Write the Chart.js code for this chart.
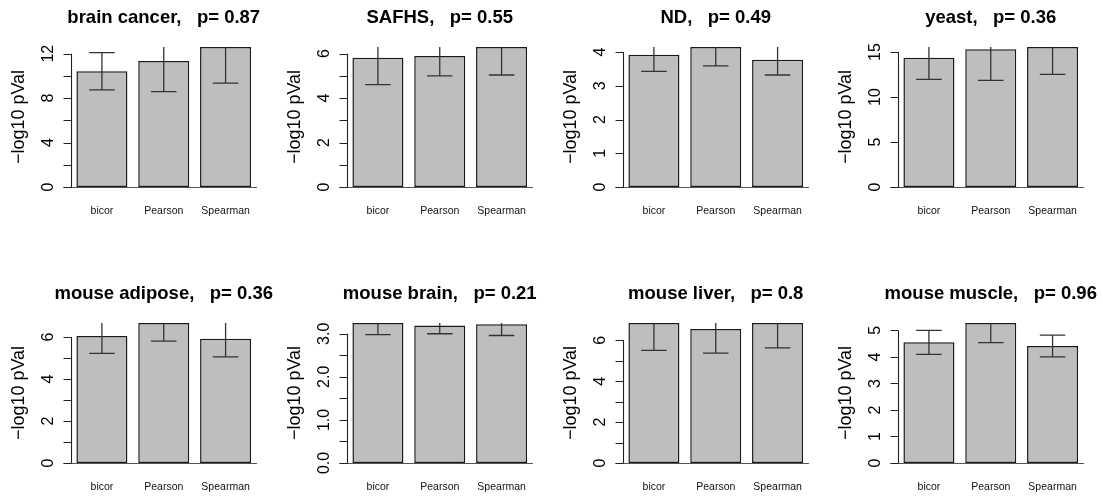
<!DOCTYPE html>
<html>
<head>
<meta charset="utf-8">
<script src="https://cdn.jsdelivr.net/npm/chart.js@4.4.0/dist/chart.umd.min.js"></script>
<style>
  html, body { margin: 0; padding: 0; background: #fff; overflow: hidden; }
  #wrap { position: relative; width: 1103px; height: 499px; }
  #wrap canvas { position: absolute; }
</style>
</head>
<body>
<div id="wrap"></div>
<script>
// Data (8 panels, 3 methods each)
const methods = ['bicor', 'Pearson', 'Spearman'];
const titles = ['brain cancer', 'SAFHS', 'ND', 'yeast',
                'mouse adipose', 'mouse brain', 'mouse liver', 'mouse muscle'];
const pValues = ['0.87', '0.55', '0.49', '0.36', '0.36', '0.21', '0.8', '0.96'];

// -log10 pVal bar heights
const barValues = [
  [10.42, 11.35, 12.6],
  [5.82, 5.90, 6.30],
  [3.92, 4.15, 3.77],
  [14.37, 15.30, 15.56],
  [6.05, 6.67, 5.92],
  [3.25, 3.19, 3.22],
  [6.85, 6.56, 6.85],
  [4.55, 5.28, 4.41]
];

// error bar half-widths
const errValues = [
  [1.67, 2.76, 3.26],
  [1.21, 0.90, 1.26],
  [0.49, 0.56, 0.45],
  [2.41, 3.45, 3.04],
  [0.83, 0.86, 0.86],
  [0.27, 0.19, 0.26],
  [1.34, 1.18, 1.22],
  [0.45, 0.74, 0.41]
];

// y axis tick positions and their labels ('' = unlabelled tick)
const yTicks = [
  [0, 2, 4, 6, 8, 10, 12],
  [0, 1, 2, 3, 4, 5, 6],
  [0, 1, 2, 3, 4],
  [0, 5, 10, 15],
  [0, 1, 2, 3, 4, 5, 6],
  [0, 0.5, 1, 1.5, 2, 2.5, 3],
  [0, 1, 2, 3, 4, 5, 6],
  [0, 1, 2, 3, 4, 5]
];
const yTickLabels = [
  ['0', '', '4', '', '8', '', '12'],
  ['0', '', '2', '', '4', '', '6'],
  ['0', '1', '2', '3', '4'],
  ['0', '5', '10', '15'],
  ['0', '', '2', '', '4', '', '6'],
  ['0.0', '', '1.0', '', '2.0', '', '3.0'],
  ['0', '', '2', '', '4', '', '6'],
  ['0', '1', '2', '3', '4', '5']
];

const FONT = '"Liberation Sans", Arial, Helvetica, sans-serif';

// R-like decorations: clipped error bars, baseline, left axis, titles
const rStyle = {
  id: 'rStyle',
  afterDatasetsDraw(chart, args, opts) {
    const { ctx, chartArea: a } = chart;
    const y = chart.scales.y;
    const meta = chart.getDatasetMeta(0);

    ctx.save();
    ctx.beginPath();
    ctx.rect(a.left, a.top, a.right - a.left, a.bottom - a.top);
    ctx.clip();
    ctx.strokeStyle = '#333';
    ctx.lineWidth = 1.3;
    meta.data.forEach((bar, i) => {
      const v = opts.values[i];
      const e = opts.errors[i];
      const hi = y.getPixelForValue(v + e);
      const lo = y.getPixelForValue(v - e);
      const cap = bar.width * 0.25;
      ctx.beginPath();
      ctx.moveTo(bar.x, hi); ctx.lineTo(bar.x, lo);
      ctx.moveTo(bar.x - cap, hi); ctx.lineTo(bar.x + cap, hi);
      ctx.moveTo(bar.x - cap, lo); ctx.lineTo(bar.x + cap, lo);
      ctx.stroke();
    });
    ctx.restore();
  },
  afterDraw(chart, args, opts) {
    const { ctx, chartArea: a } = chart;
    const y = chart.scales.y;
    const ax = Math.round(a.left) + 0.5;

    ctx.save();
    // baseline at 0
    const y0 = Math.round(y.getPixelForValue(0)) + 0.5;
    ctx.strokeStyle = '#555';
    ctx.lineWidth = 1.2;
    ctx.beginPath();
    ctx.moveTo(a.left - 7.5, y0);
    ctx.lineTo(a.right + 0.5, y0);
    ctx.stroke();

    // left axis line spans first to last tick
    const ticks = opts.ticks;
    const first = y.getPixelForValue(ticks[0]);
    const last = y.getPixelForValue(ticks[ticks.length - 1]);
    ctx.strokeStyle = '#222';
    ctx.lineWidth = 1.1;
    ctx.beginPath();
    ctx.moveTo(ax, first);
    ctx.lineTo(ax, last);
    ticks.forEach(t => {
      const py = Math.round(y.getPixelForValue(t)) + 0.5;
      ctx.moveTo(ax - 8, py);
      ctx.lineTo(ax, py);
    });
    ctx.stroke();

    // rotated tick labels
    ctx.fillStyle = '#000';
    ctx.font = '16px ' + FONT;
    ctx.textAlign = 'center';
    ctx.textBaseline = 'middle';
    ticks.forEach((t, i) => {
      const label = opts.tickLabels[i];
      if (!label) return;
      ctx.save();
      ctx.translate(ax - 22.5, y.getPixelForValue(t));
      ctx.rotate(-Math.PI / 2);
      ctx.fillText(label, 0, 0);
      ctx.restore();
    });

    // y axis title
    ctx.font = '18px ' + FONT;
    ctx.save();
    ctx.translate(ax - 52, (a.top + a.bottom) / 2);
    ctx.rotate(-Math.PI / 2);
    ctx.fillText('\u2212log10 pVal', 0, 0);
    ctx.restore();

    // main title
    ctx.font = 'bold 18.5px ' + FONT;
    ctx.fillText(opts.title, (a.left + a.right) / 2, a.top - 29.5);
    ctx.restore();
  }
};

const wrap = document.getElementById('wrap');

titles.forEach((name, i) => {
  const col = i % 4;
  const row = Math.floor(i / 4);
  const canvas = document.createElement('canvas');
  canvas.width = 276;
  canvas.height = 223;
  canvas.style.left = Math.round(col * 1103 / 4) + 'px';
  canvas.style.top = (row * 276) + 'px';
  wrap.appendChild(canvas);

  const values = barValues[i];

  new Chart(canvas, {
    type: 'bar',
    data: {
      labels: methods,
      datasets: [{
        data: values,
        backgroundColor: '#bebebe',
        borderColor: '#1a1a1a',
        borderWidth: 1.5,
        borderSkipped: false,
        categoryPercentage: 0.825,
        barPercentage: 1,
        clip: false
      }]
    },
    options: {
      responsive: false,
      animation: false,
      layout: { padding: { left: 71, right: 19.5, top: 47, bottom: 0 } },
      plugins: {
        legend: { display: false },
        tooltip: { enabled: false },
        title: { display: false },
        rStyle: {
          values: values,
          errors: errValues[i],
          ticks: yTicks[i],
          tickLabels: yTickLabels[i],
          title: name + ',   p= ' + pValues[i]
        }
      },
      scales: {
        x: {
          grid: { display: false, drawTicks: false },
          border: { display: false },
          ticks: {
            color: '#111',
            font: { family: FONT, size: 10.5 },
            padding: 18.2,
            autoSkip: false,
            maxRotation: 0,
            minRotation: 0
          },
          afterFit: s => { s.height = 36; }
        },
        y: {
          display: false,
          min: 0,
          max: Math.max(...values)
        }
      }
    },
    plugins: [rStyle]
  });
});
</script>
</body>
</html>
